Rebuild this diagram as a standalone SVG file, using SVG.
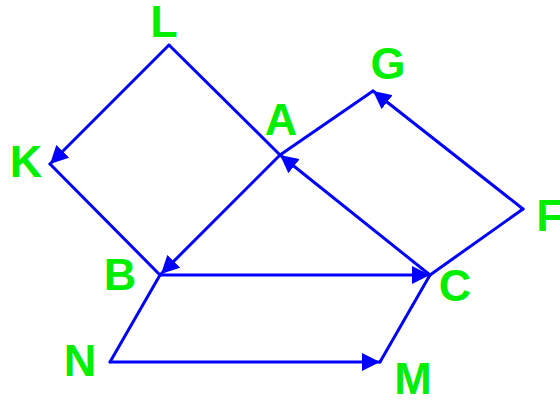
<svg xmlns="http://www.w3.org/2000/svg" width="560" height="400" viewBox="0 0 560 400">
  <style>
    .lbl { font-family: "Liberation Sans", Arial, sans-serif; font-weight: bold; font-size: 45px; fill: #00ee00; text-anchor: middle; }
    .edge { stroke: #0000ff; stroke-width: 3; fill: none; stroke-linecap: round; stroke-linejoin: round; }
    .arrow { marker-end: url(#arrowhead); }
  </style>
  <defs>
    <marker id="arrowhead" viewBox="0 0 18 18" refX="18" refY="9" markerWidth="18" markerHeight="18" markerUnits="userSpaceOnUse" orient="auto">
      <path d="M0,0 L18,9 L0,18 z" fill="#0000ff"/>
    </marker>
  </defs>
  <rect width="560" height="400" fill="#ffffff"/>
  <g id="connectors">
    <line class="edge arrow" x1="169" y1="45" x2="50" y2="164"/>
    <line class="edge" x1="50" y1="164" x2="160" y2="275"/>
    <line class="edge" x1="169" y1="45" x2="280" y2="155"/>
    <line class="edge arrow" x1="430" y1="275" x2="280" y2="155"/>
    <line class="edge" x1="373" y1="91" x2="280" y2="155"/>
    <line class="edge arrow" x1="280" y1="155" x2="161" y2="274"/>
    <line class="edge arrow" x1="523" y1="209" x2="373" y2="91"/>
    <line class="edge" x1="523" y1="209" x2="430" y2="275"/>
    <line class="edge arrow" x1="160" y1="275" x2="430" y2="275"/>
    <line class="edge" x1="160" y1="275" x2="110" y2="362"/>
    <line class="edge arrow" x1="110" y1="362" x2="380" y2="362"/>
    <line class="edge" x1="380" y1="362" x2="430" y2="275"/>
  </g>
  <g id="node-L"><text class="lbl" x="164" y="37">L</text></g>
  <g id="node-K"><text class="lbl" x="26" y="177">K</text></g>
  <g id="node-A"><text class="lbl" x="281" y="135">A</text></g>
  <g id="node-G"><text class="lbl" x="388" y="79">G</text></g>
  <g id="node-F"><text class="lbl" x="550" y="231">F</text></g>
  <g id="node-B"><text class="lbl" x="120" y="290">B</text></g>
  <g id="node-C"><text class="lbl" x="455" y="301">C</text></g>
  <g id="node-N"><text class="lbl" x="80" y="376">N</text></g>
  <g id="node-M"><text class="lbl" x="413" y="394">M</text></g>
</svg>
